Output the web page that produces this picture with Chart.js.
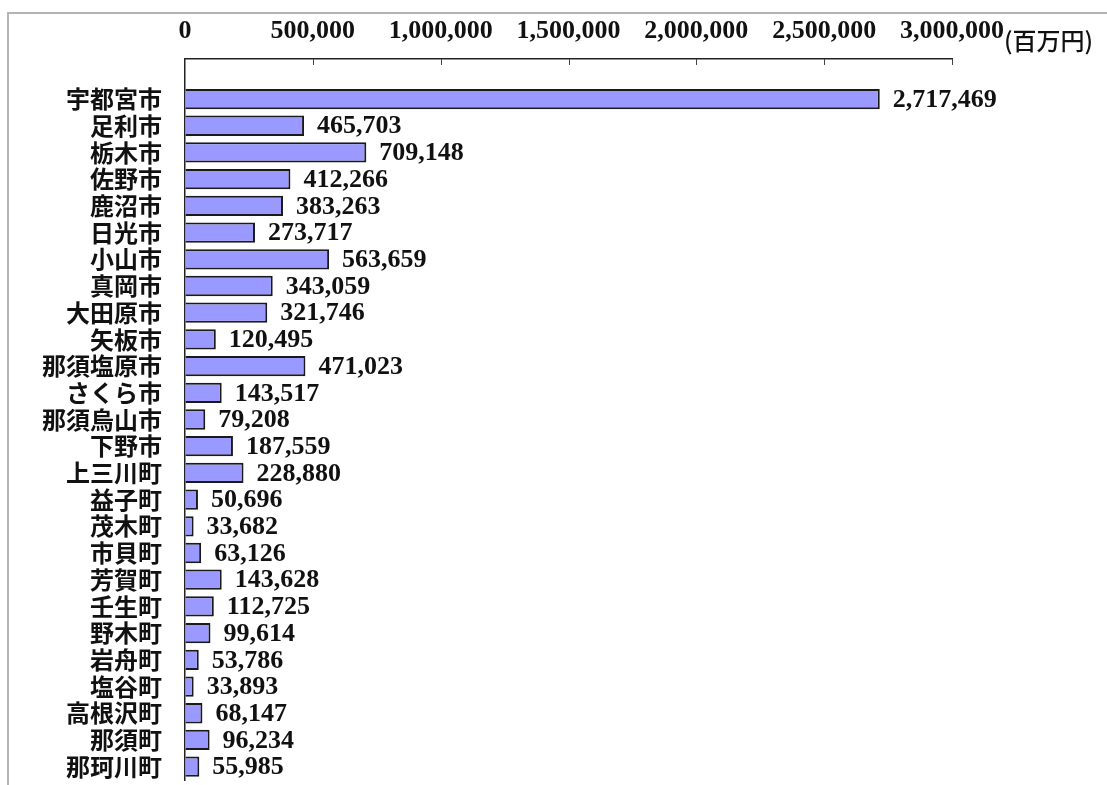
<!DOCTYPE html>
<html lang="ja">
<head>
<meta charset="utf-8">
<title>市町別 総生産</title>
<script src="https://cdn.jsdelivr.net/npm/chart.js@4/dist/chart.umd.min.js"></script>
<style>
    body { margin: 0; background: #fff; }
    canvas { display: block; }
</style>
</head>
<body>
<canvas id="cityChart" width="1107" height="785"></canvas>
<script>
// 市町別の値（百万円）
const cities = ['宇都宮市', '足利市', '栃木市', '佐野市', '鹿沼市', '日光市', '小山市', '真岡市', '大田原市', '矢板市',
    '那須塩原市', 'さくら市', '那須烏山市', '下野市', '上三川町', '益子町', '茂木町', '市貝町', '芳賀町', '壬生町',
    '野木町', '岩舟町', '塩谷町', '高根沢町', '那須町', '那珂川町'];
const values = [2717469, 465703, 709148, 412266, 383263, 273717, 563659, 343059, 321746, 120495,
    471023, 143517, 79208, 187559, 228880, 50696, 33682, 63126, 143628, 112725,
    99614, 53786, 33893, 68147, 96234, 55985];
const axisTicks = [0, 500000, 1000000, 1500000, 2000000, 2500000, 3000000];
const unitLabel = '(百万円)';

const numFont = '"Liberation Serif", "Times New Roman", serif';
const jpFont = '"Noto Sans CJK JP", sans-serif';

function fmt(v) {
    return Number(v).toLocaleString('en-US');
}

// outer frame, inner tick marks, unit label and value labels
const decorations = {
    id: 'decorations',
    beforeDraw(chart) {
        const ctx = chart.ctx;
        ctx.save();
        ctx.strokeStyle = '#b4b4b4';
        ctx.lineWidth = 2;
        ctx.beginPath();
        ctx.moveTo(8, chart.height);
        ctx.lineTo(8, 13);
        ctx.lineTo(chart.width, 13);
        ctx.stroke();
        ctx.restore();
    },
    afterDatasetsDraw(chart) {
        const ctx = chart.ctx;
        const xs = chart.scales.x;
        const top = chart.chartArea.top;
        ctx.save();
        ctx.strokeStyle = '#444';
        ctx.lineWidth = 1;
        xs.ticks.forEach(t => {
            if (t.value === 0) return;
            const px = Math.round(xs.getPixelForValue(t.value)) + 0.5;
            ctx.beginPath();
            ctx.moveTo(px, top);
            ctx.lineTo(px, top + 6);
            ctx.stroke();
        });

        ctx.fillStyle = '#111';
        ctx.font = 'bold 26px ' + numFont;
        ctx.textAlign = 'left';
        ctx.textBaseline = 'middle';
        const meta = chart.getDatasetMeta(0);
        meta.data.forEach((bar, i) => {
            const v = chart.data.datasets[0].data[i];
            if (v === null) return;
            ctx.fillText(fmt(v), bar.x + 13, bar.y + 1);
        });

        ctx.font = '500 24px ' + jpFont;
        ctx.fillText(unitLabel, 1004, 41);
        ctx.restore();
    }
};

window.onload = function() {
    const ctx = document.getElementById('cityChart').getContext('2d');
    new Chart(ctx, {
        type: 'bar',
        data: {
            // blank first row leaves a gap under the top axis
            labels: [''].concat(cities),
            datasets: [{
                data: [null].concat(values),
                backgroundColor: '#9999ff',
                borderColor: '#1a1a1a',
                borderWidth: 2,
                borderSkipped: 'start',
                barPercentage: 0.76,
                categoryPercentage: 1.0
            }]
        },
        options: {
            indexAxis: 'y',
            responsive: false,
            animation: false,
            layout: { padding: { left: 0, right: 155, top: 0, bottom: 5 } },
            plugins: {
                legend: { display: false },
                tooltip: { enabled: false }
            },
            scales: {
                x: {
                    position: 'top',
                    min: 0,
                    max: 3000000,
                    afterFit(scale) {
                        scale.height = 59;
                        scale.paddingLeft = 0;
                        scale.paddingRight = 0;
                    },
                    afterBuildTicks(scale) {
                        scale.ticks = axisTicks.map(v => ({ value: v }));
                    },
                    grid: { drawOnChartArea: false, drawTicks: false },
                    border: { display: true, color: '#222', width: 1.5 },
                    ticks: {
                        color: '#111',
                        padding: 12,
                        maxRotation: 0,
                        font: { family: numFont, size: 26, weight: 'bold' },
                        callback: v => fmt(v)
                    }
                },
                y: {
                    afterFit(scale) {
                        scale.width = 185;
                        scale.paddingTop = 0;
                        scale.paddingBottom = 0;
                    },
                    grid: { drawOnChartArea: false, drawTicks: false },
                    border: { display: true, color: '#222', width: 1.5 },
                    ticks: {
                        color: '#111',
                        padding: 23,
                        autoSkip: false,
                        font: { family: jpFont, size: 24, weight: 'bold' }
                    }
                }
            }
        },
        plugins: [decorations]
    });
};
</script>
</body>
</html>
